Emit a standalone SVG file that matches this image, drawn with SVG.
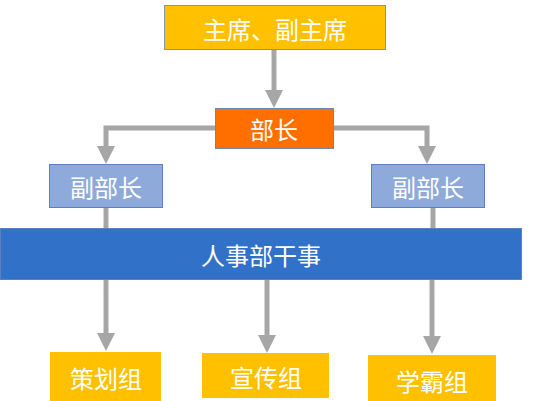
<svg xmlns="http://www.w3.org/2000/svg" width="549" height="401" viewBox="0 0 549 401">
<style>
text{font-family:"Noto Sans CJK SC","Liberation Sans",sans-serif;fill:#fff;text-anchor:middle;dominant-baseline:central;font-size:24px}
.ln{stroke:#a6a6a6;stroke-width:5;fill:none}
.ah{fill:#a6a6a6}
.gold{fill:#ffc000}
</style>
<rect width="549" height="401" fill="#fff"/>
<g id="connectors">
<path class="ln" d="M274,49 V92"/>
<path class="ah" d="M265,90 L283,90 L274,108 Z"/>
<path class="ln" d="M215,128 H106 V148"/>
<path class="ah" d="M97,146 L115,146 L106,164 Z"/>
<path class="ln" d="M333,128 H427 V148"/>
<path class="ah" d="M418,146 L436,146 L427,164 Z"/>
<path class="ln" d="M106,207 V228"/>
<path class="ln" d="M433,207 V228"/>
<path class="ln" d="M106,280 V336"/>
<path class="ah" d="M97,333 L115,333 L106,351 Z"/>
<path class="ln" d="M267,280 V338"/>
<path class="ah" d="M258,335 L276,335 L267,353 Z"/>
<path class="ln" d="M432,280 V339"/>
<path class="ah" d="M423,336 L441,336 L432,354 Z"/>
</g>
<g id="chair">
<rect x="164.5" y="5.5" width="221" height="44" class="gold" stroke="#7f93b8" stroke-width="1"/>
<text x="275" y="28">主席、副主席</text>
</g>
<g id="minister">
<rect x="215.5" y="108.5" width="118" height="40" fill="#ff6f00" stroke="#6f87b0" stroke-width="1"/>
<text x="274" y="128">部长</text>
</g>
<g id="vice-left">
<rect x="49.5" y="164.5" width="113" height="43" fill="#8eaadb" stroke="#5b7fc0" stroke-width="1"/>
<text x="106" y="186">副部长</text>
</g>
<g id="vice-right">
<rect x="371.5" y="164.5" width="113" height="43" fill="#8eaadb" stroke="#5b7fc0" stroke-width="1"/>
<text x="428" y="186">副部长</text>
</g>
<g id="staff">
<rect x="0.5" y="228.5" width="521" height="51" fill="#3172c8" stroke="#5b80c0" stroke-width="1"/>
<text x="261" y="254">人事部干事</text>
</g>
<g id="planning">
<rect x="50" y="352" width="111" height="52" class="gold"/>
<text x="106" y="377">策划组</text>
</g>
<g id="publicity">
<rect x="202" y="353" width="127" height="45" class="gold"/>
<text x="266" y="376">宣传组</text>
</g>
<g id="study">
<rect x="368" y="355" width="128" height="50" class="gold"/>
<text x="432" y="380">学霸组</text>
</g>
</svg>
